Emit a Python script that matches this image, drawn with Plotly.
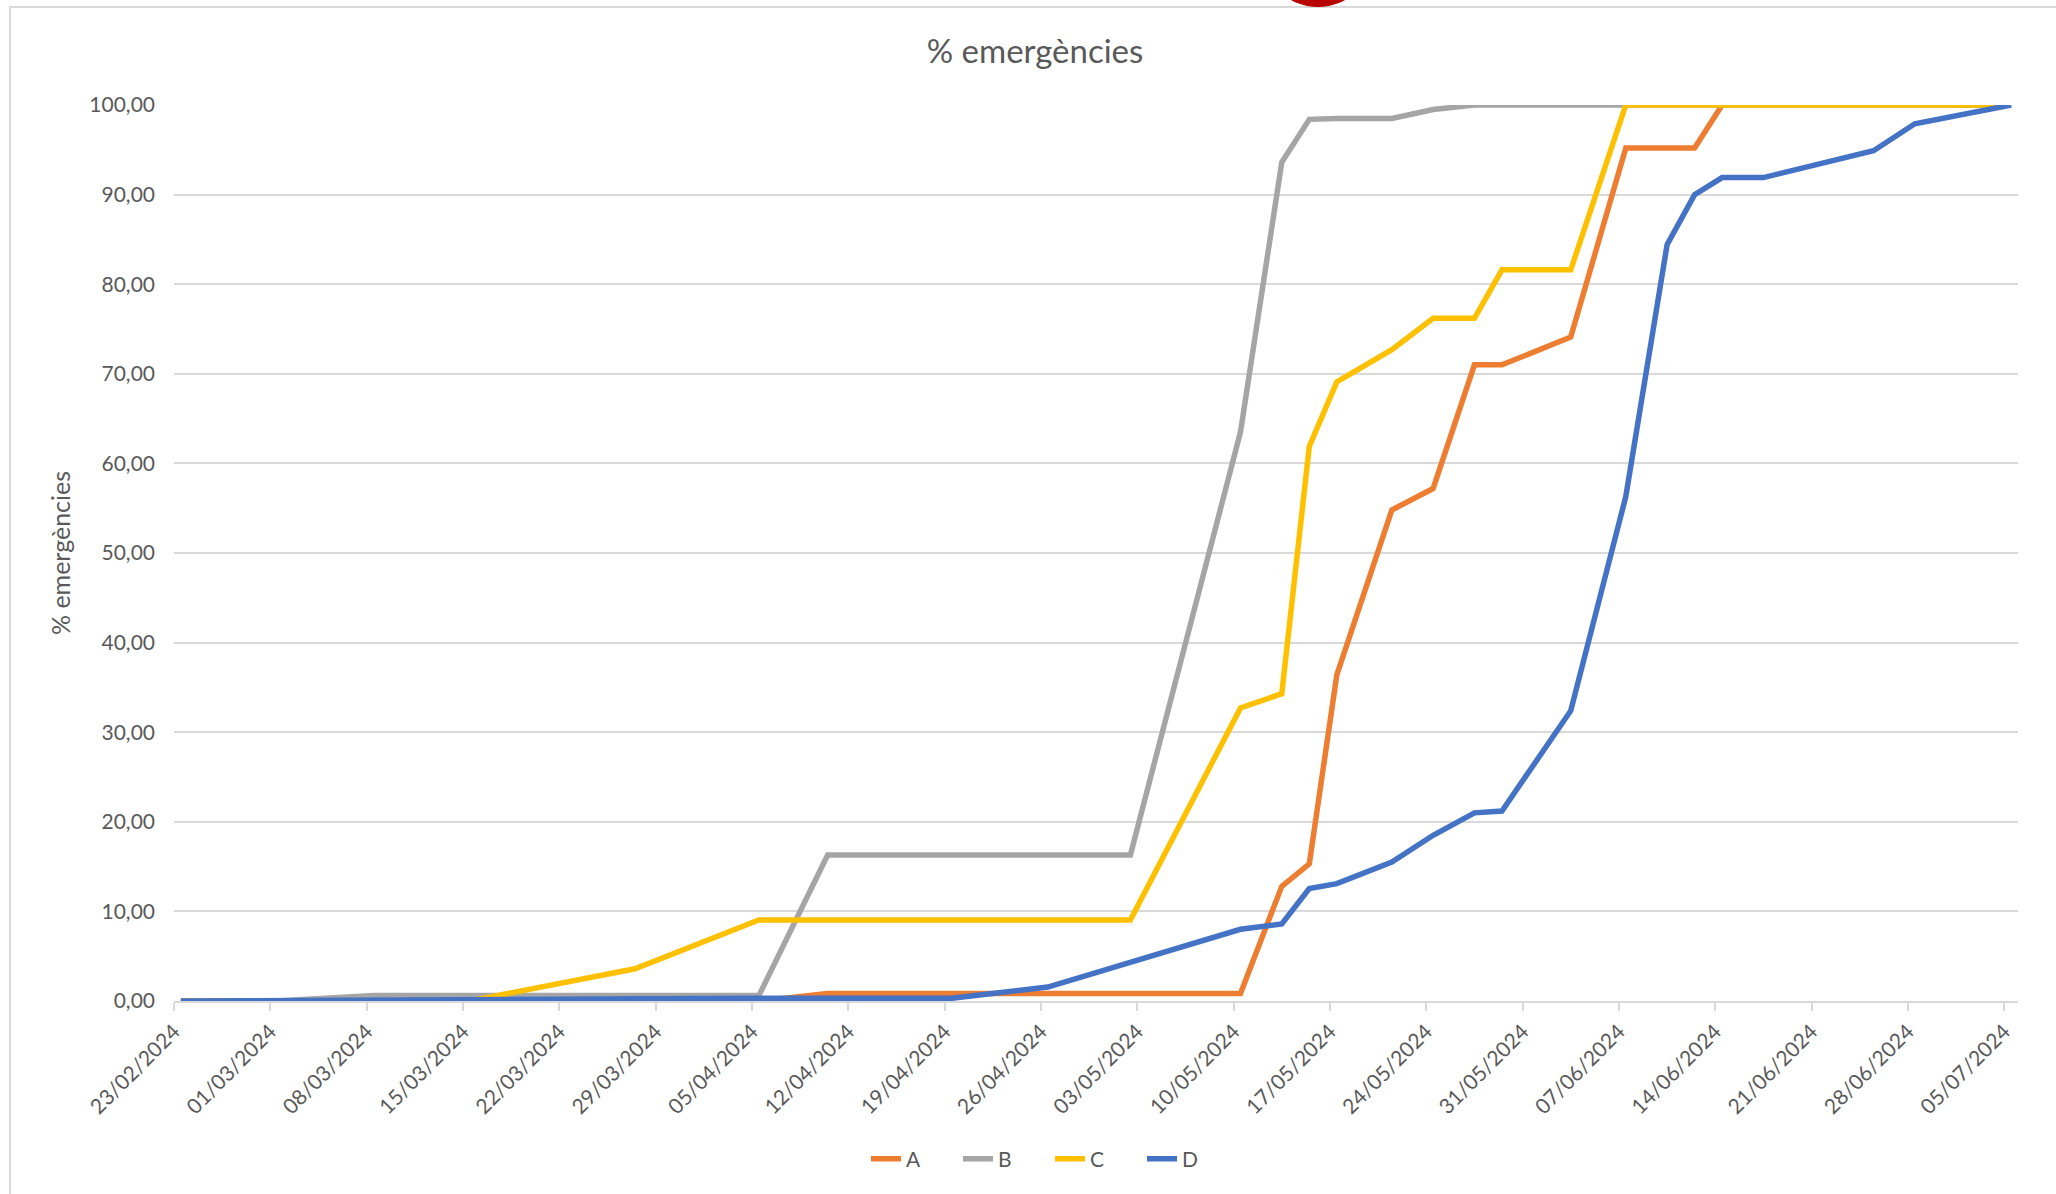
import pandas as pd
import plotly.graph_objects as go

# Sampling dates (dd/mm/yyyy)
dates = [
    "23/02/2024", "01/03/2024", "08/03/2024", "15/03/2024", "27/03/2024",
    "05/04/2024", "10/04/2024", "19/04/2024", "26/04/2024", "02/05/2024",
    "10/05/2024", "13/05/2024", "15/05/2024", "17/05/2024", "21/05/2024",
    "24/05/2024", "27/05/2024", "29/05/2024", "03/06/2024", "07/06/2024",
    "10/06/2024", "12/06/2024", "14/06/2024", "17/06/2024", "25/06/2024",
    "28/06/2024", "05/07/2024",
]

# Cumulative % of emergences per series
serie_a = [0, 0, 0, 0, 0, 0, 0.83, 0.83, 0.83, 0.83, 0.83, 12.8, 15.3, 36.4,
           54.8, 57.2, 71.0, 71.0, 74.1, 95.2, 95.2, 95.2, 100, 100, 100, 100, 100]
serie_b = [0, 0, 0.6, 0.6, 0.6, 0.6, 16.3, 16.3, 16.3, 16.3, 63.5, 93.6, 98.4,
           98.5, 98.5, 99.5, 100, 100, 100, 100, 100, 100, 100, 100, 100, 100, 100]
serie_c = [0, 0, 0, 0, 3.6, 9.04, 9.04, 9.04, 9.04, 9.04, 32.7, 34.3, 61.9,
           69.1, 72.7, 76.2, 76.2, 81.6, 81.6, 100, 100, 100, 100, 100, 100, 100, 100]
serie_d = [0, 0.05, 0.15, 0.3, 0.3, 0.3, 0.3, 0.3, 1.56, 4.3, 8.0, 8.6, 12.55,
           13.1, 15.5, 18.5, 21.0, 21.2, 32.4, 56.3, 84.4, 90.0, 91.9, 91.9,
           94.9, 97.9, 100]

series_names = ["A", "B", "C", "D"]
series_colors = ["#ED7D31", "#A5A5A5", "#FFC000", "#4472C4"]

tick_dates = [
    "23/02/2024", "01/03/2024", "08/03/2024", "15/03/2024", "22/03/2024",
    "29/03/2024", "05/04/2024", "12/04/2024", "19/04/2024", "26/04/2024",
    "03/05/2024", "10/05/2024", "17/05/2024", "24/05/2024", "31/05/2024",
    "07/06/2024", "14/06/2024", "21/06/2024", "28/06/2024", "05/07/2024",
]

title_text = "% emergències"
axis_title = "% emergències"

# Each day occupies one slot on the date axis; points sit in the middle of it
x_dates = pd.to_datetime(dates, format="%d/%m/%Y") + pd.Timedelta(hours=12)
x_ticks = pd.to_datetime(tick_dates, format="%d/%m/%Y")

W, H = 2056, 1194
M_L, M_R, M_T, M_B = 174, 38, 105, 193
PW, PH = W - M_L - M_R, H - M_T - M_B
TEXT = "#595959"
GRID = "#D9D9D9"
FONT = "Lato, 'Open Sans', sans-serif"


def px_x(px):
    return (px - M_L) / PW


def px_y(py):
    return (H - M_B - py) / PH


fig = go.Figure()
for name, vals, col in zip(series_names, [serie_a, serie_b, serie_c, serie_d], series_colors):
    fig.add_trace(go.Scatter(
        x=x_dates, y=vals, name=name, mode="lines",
        line=dict(color=col, width=5.5),
    ))

fig.update_layout(
    width=W, height=H,
    margin=dict(l=M_L, r=M_R, t=M_T, b=M_B),
    paper_bgcolor="white", plot_bgcolor="white",
    separators=",.",
    font=dict(family=FONT, color=TEXT, size=21),
    title=dict(text=title_text, x=1035 / W, xref="container", xanchor="center",
               y=1 - 51 / H, yref="container", yanchor="middle",
               font=dict(size=33, color=TEXT, family=FONT)),
    showlegend=True,
    legend=dict(orientation="h", xref="container", yref="container",
                x=1050 / W, xanchor="center", y=1 - 1159 / H, yanchor="middle",
                entrywidth=47, entrywidthmode="pixels",
                font=dict(size=21, color=TEXT), bgcolor="rgba(0,0,0,0)"),
    xaxis=dict(
        type="date",
        range=[pd.Timestamp("2024-02-23"), pd.Timestamp("2024-07-06")],
        tickvals=x_ticks, ticktext=tick_dates, tickangle=-45,
        showgrid=False, zeroline=False,
        showline=True, linecolor=GRID, linewidth=2,
        ticks="outside", ticklen=8, tickwidth=2, tickcolor=GRID,
        tickfont=dict(size=21, color=TEXT),
    ),
    yaxis=dict(
        range=[0, 100], dtick=10, tick0=0, tickformat=".2f",
        showgrid=True, gridcolor=GRID, gridwidth=2,
        zeroline=False, showline=False, ticks="",
        ticklabelstandoff=18,
        tickfont=dict(size=21, color=TEXT),
        title=dict(text=axis_title, standoff=11, font=dict(size=25, color=TEXT)),
    ),
    shapes=[
        # chart frame
        dict(type="rect", xref="paper", yref="paper", layer="below",
             x0=px_x(10), x1=px_x(W + 20), y0=px_y(H + 20), y1=px_y(7),
             line=dict(color=GRID, width=2), fillcolor="rgba(0,0,0,0)"),
        # red marker peeking in at the top edge
        dict(type="circle", xref="paper", yref="paper", layer="above",
             x0=px_x(1318 - 56), x1=px_x(1318 + 56),
             y0=px_y(-49 + 56), y1=px_y(-49 - 56),
             line=dict(width=0), fillcolor="#B80000"),
    ],
)

fig.write_html("out.html")
